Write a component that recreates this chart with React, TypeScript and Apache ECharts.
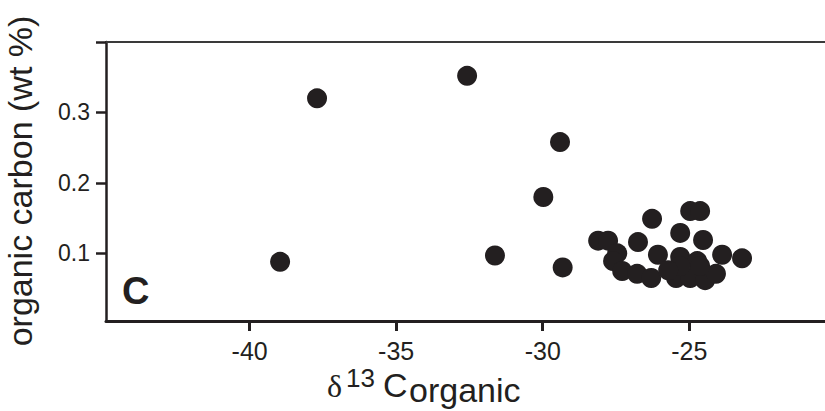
import React, { useEffect, useRef } from "react";
import * as echarts from "echarts";

// δ13C organic (‰) and organic carbon (wt %)
const d13C: number[] = [
  -38.96, -37.7, -32.58, -29.41, -29.98, -31.63, -29.32,
  -26.27, -24.97, -24.63, -28.11, -27.77, -25.31, -26.75, -24.53,
  -27.46, -27.6, -26.07, -25.31, -24.73, -23.88, -23.2,
  -27.29, -26.78, -26.3, -25.45, -24.97, -24.46, -24.09,
  -25.31, -24.63, -25.72,
];
const orgC: number[] = [
  0.088, 0.32, 0.352, 0.258, 0.18, 0.097, 0.08,
  0.149, 0.16, 0.16, 0.118, 0.118, 0.129, 0.116, 0.119,
  0.1, 0.089, 0.098, 0.095, 0.089, 0.098, 0.093,
  0.075, 0.071, 0.065, 0.065, 0.065, 0.062, 0.071,
  0.082, 0.082, 0.076,
];
const xTicks: number[] = [-40, -35, -30, -25];
const yTicks: number[] = [0.1, 0.2, 0.3, 0.4];
const yLabels: number[] = [0.1, 0.2, 0.3];

const INK = "#231f20";
const FONT = "'Liberation Sans', Arial, Helvetica, sans-serif";

export default function App() {
  const ref = useRef<HTMLDivElement>(null);
  useEffect(() => {
    if (!ref.current) return;
    const chart = echarts.init(ref.current, undefined, { renderer: "svg" });
    const data = d13C.map((x, i) => [x, orgC[i]]);
    chart.setOption({
      animation: false,
      backgroundColor: "#ffffff",
      grid: { left: 106, right: 0, top: 42, bottom: 90 },
      xAxis: [
        {
          type: "value",
          position: "bottom",
          min: -44.9,
          max: -20.37,
          axisLine: { show: true, onZero: false, lineStyle: { color: INK, width: 3 } },
          axisTick: {
            show: true,
            customValues: xTicks,
            length: 10,
            inside: false,
            lineStyle: { color: INK, width: 3 },
          },
          axisLabel: {
            customValues: xTicks,
            fontSize: 25,
            margin: 17,
            color: INK,
            fontFamily: FONT,
          },
          splitLine: { show: false },
        },
        {
          type: "value",
          position: "top",
          min: -44.9,
          max: -20.37,
          axisLine: { show: true, onZero: false, lineStyle: { color: "#3a3a3a", width: 2 } },
          axisTick: { show: false },
          axisLabel: { show: false },
          splitLine: { show: false },
        },
      ],
      yAxis: {
        type: "value",
        min: 0.004,
        max: 0.4,
        axisLine: { show: true, onZero: false, lineStyle: { color: INK, width: 2.5 } },
        axisTick: {
          show: true,
          customValues: yTicks,
          length: 10,
          lineStyle: { color: INK, width: 2.5 },
        },
        axisLabel: {
          customValues: yLabels,
          fontSize: 23,
          margin: 16,
          color: INK,
          fontFamily: FONT,
        },
        splitLine: { show: false },
      },
      graphic: [
        {
          type: "text",
          x: 20,
          y: 181,
          rotation: Math.PI / 2,
          style: {
            text: "organic carbon (wt %)",
            fontSize: 34,
            fontFamily: FONT,
            fill: INK,
            align: "center",
            verticalAlign: "middle",
          },
        },
        {
          type: "text",
          x: 122,
          y: 291,
          style: {
            text: "C",
            fontSize: 38,
            fontWeight: "bold",
            fontFamily: FONT,
            fill: INK,
            align: "left",
            verticalAlign: "middle",
          },
        },
        {
          type: "text",
          x: 327,
          y: 386,
          style: {
            text: "δ",
            fontSize: 32,
            fontFamily: "'Liberation Serif', 'Times New Roman', serif",
            fill: INK,
            align: "left",
            verticalAlign: "middle",
          },
        },
        {
          type: "text",
          x: 346,
          y: 378,
          style: {
            text: "13",
            fontSize: 26,
            fontFamily: FONT,
            fill: INK,
            align: "left",
            verticalAlign: "middle",
          },
        },
        {
          type: "text",
          x: 383,
          y: 385,
          style: {
            text: "C",
            fontSize: 34,
            fontFamily: FONT,
            fill: INK,
            align: "left",
            verticalAlign: "middle",
          },
        },
        {
          type: "text",
          x: 409,
          y: 390,
          style: {
            text: "organic",
            fontSize: 34,
            fontFamily: FONT,
            fill: INK,
            align: "left",
            verticalAlign: "middle",
          },
        },
      ],
      series: [
        {
          type: "scatter",
          xAxisIndex: 0,
          yAxisIndex: 0,
          data,
          symbol: "circle",
          symbolSize: 20,
          itemStyle: { color: INK, opacity: 1 },
        },
      ],
    });
    return () => chart.dispose();
  }, []);
  return (
    <div
      ref={ref}
      style={{ position: "fixed", left: 0, top: 0, width: 825, height: 411, background: "#fff" }}
    />
  );
}
